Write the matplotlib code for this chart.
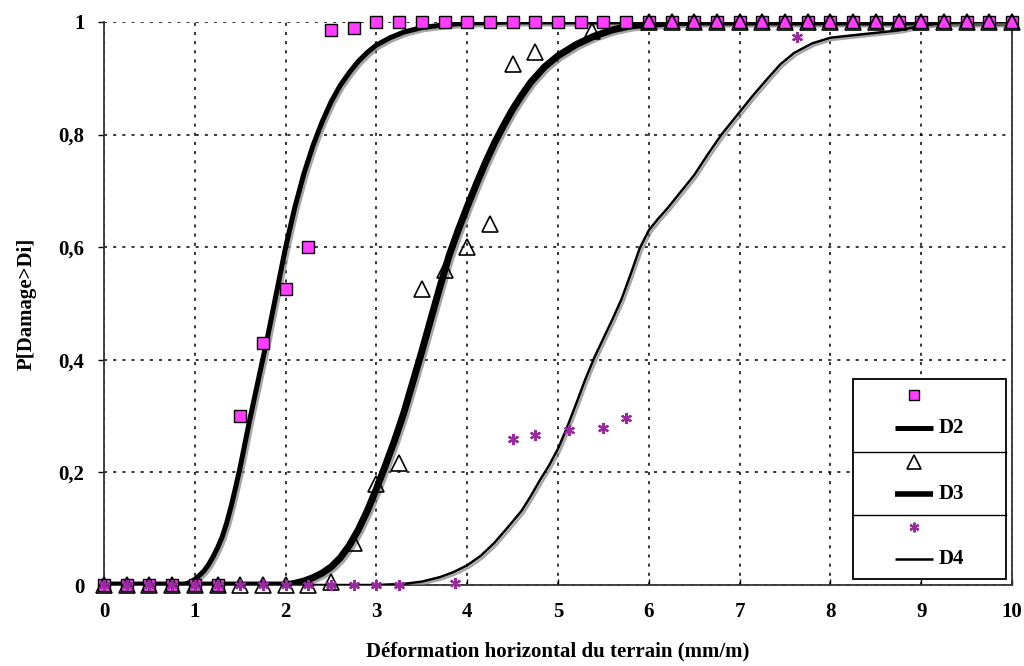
import matplotlib.pyplot as plt
import matplotlib.patheffects as pe
from matplotlib.lines import Line2D
import numpy as np

plt.rcParams['font.family'] = ['Liberation Serif', 'DejaVu Serif']
plt.rcParams['font.weight'] = 'bold'

# observed points
x_grid = np.arange(0, 10.01, 0.25)
d2_pts = [0, 0, 0, 0, 0, 0, 0.30, 0.43, 0.525, 0.60, 0.985, 0.99] + [1.0] * 29

d3_x = [0, 0.25, 0.5, 0.75, 1.0, 1.25, 1.5, 1.75, 2.0, 2.25, 2.5, 2.75, 3.0, 3.25,
        3.5, 3.75, 4.0, 4.25, 4.5, 4.75, 5.37, 6.0, 6.25, 6.5, 6.75, 7.0, 7.25,
        7.5, 7.75, 8.0, 8.25, 8.5, 8.75, 9.0, 9.25, 9.5, 9.75, 10.0]
d3_pts = [0, 0, 0, 0, 0, 0, 0, 0, 0, 0, 0.005, 0.074, 0.18, 0.217,
          0.526, 0.559, 0.60, 0.642, 0.926, 0.946, 0.984] + [1.0] * 17

d4_x = [0, 0.25, 0.5, 0.75, 1.0, 1.25, 1.5, 1.75, 2.0, 2.25, 2.5, 2.75, 3.0, 3.25,
        3.87, 4.5, 4.75, 5.12, 5.5, 5.75, 7.63]
d4_pts = [0] * 14 + [0.003, 0.259, 0.267, 0.275, 0.279, 0.297, 0.973]

# fitted curves
c2_x = [0, 0.85, 0.9, 0.95, 1.0, 1.05, 1.1, 1.15, 1.2, 1.25, 1.3, 1.35, 1.4, 1.45,
        1.5, 1.55, 1.6, 1.7, 1.8, 1.9, 2.0, 2.1, 2.2, 2.3, 2.4, 2.5, 2.6, 2.7,
        2.8, 2.9, 3.0, 3.15, 3.3, 3.5, 3.75, 4.0, 4.5, 10]
c2_y = [0, 0, 0.002, 0.005, 0.01, 0.017, 0.025, 0.036, 0.05, 0.066, 0.085, 0.11,
        0.14, 0.174, 0.21, 0.25, 0.29, 0.365, 0.44, 0.52, 0.60, 0.67, 0.73, 0.78,
        0.822, 0.858, 0.887, 0.91, 0.93, 0.946, 0.959, 0.972, 0.982, 0.99, 0.995,
        0.998, 1.0, 1.0]

c3_x = [0, 2.0, 2.1, 2.2, 2.3, 2.4, 2.5, 2.6, 2.7, 2.8, 2.9, 3.0, 3.1, 3.2, 3.3,
        3.4, 3.5, 3.6, 3.7, 3.8, 3.9, 4.0, 4.1, 4.2, 4.3, 4.4, 4.5, 4.6, 4.7,
        4.85, 5.0, 5.2, 5.4, 5.6, 5.8, 6.0, 6.5, 10]
c3_y = [0, 0, 0.003, 0.007, 0.013, 0.021, 0.032, 0.048, 0.07, 0.098, 0.132, 0.171,
        0.213, 0.257, 0.305, 0.36, 0.415, 0.473, 0.53, 0.585, 0.63, 0.672, 0.712,
        0.75, 0.785, 0.816, 0.845, 0.87, 0.893, 0.92, 0.94, 0.96, 0.975, 0.986,
        0.993, 0.996, 1.0, 1.0]

c4_x = [0, 3.0, 3.3, 3.5, 3.7, 3.85, 4.0, 4.15, 4.3, 4.45, 4.6, 4.7, 4.8, 4.9,
        5.0, 5.1, 5.2, 5.3, 5.4, 5.5, 5.6, 5.7, 5.8, 5.9, 6.0, 6.1, 6.2, 6.35,
        6.5, 6.65, 6.8, 7.0, 7.15, 7.3, 7.45, 7.6, 7.8, 8.0, 8.4, 8.75, 9.0,
        9.2, 9.5, 10]
c4_y = [0, 0, 0.002, 0.006, 0.014, 0.023, 0.035, 0.052, 0.075, 0.103, 0.132,
        0.158, 0.186, 0.212, 0.242, 0.28, 0.322, 0.365, 0.404, 0.438, 0.472,
        0.508, 0.552, 0.598, 0.63, 0.65, 0.668, 0.698, 0.728, 0.765, 0.8, 0.84,
        0.87, 0.898, 0.925, 0.945, 0.962, 0.972, 0.979, 0.985, 0.993, 0.998,
        1.0, 1.0]

x_ticks = list(range(0, 11))
y_ticks = [0, 0.2, 0.4, 0.6, 0.8, 1.0]
y_tick_labels = ['0', '0,2', '0,4', '0,6', '0,8', '1']

sq_color = '#ff3cff'
ast_color = '#9a2aa0'

fig = plt.figure(figsize=(10.24, 6.66), dpi=100)
ax = fig.add_axes([0.1016, 0.1216, 0.8867, 0.8454])

shadow = [pe.SimpleLineShadow(offset=(1.5, -1.5), shadow_color='gray', alpha=0.7), pe.Normal()]

ax.plot(c2_x, c2_y, color='black', lw=3.6, zorder=3, path_effects=shadow)
ax.plot(c3_x, c3_y, color='black', lw=5.0, zorder=3, path_effects=shadow)
ax.plot(c4_x, c4_y, color='black', lw=1.8, zorder=3, path_effects=shadow)

ax.plot(x_grid, d2_pts, ls='none', marker='s', ms=8, mfc=sq_color, mec='black', mew=1.0,
        zorder=4, clip_on=False)
ax.plot(d3_x, d3_pts, ls='none', marker='^', ms=11, mfc='none', mec='black', mew=1.2,
        zorder=5, clip_on=False)
ax.plot(d4_x, d4_pts, ls='none', marker=(6, 2, 0), ms=8, mec=ast_color, mew=1.6,
        zorder=6, clip_on=False)

ax.set_xlim(0, 10)
ax.set_ylim(0, 1)
ax.set_xticks(x_ticks)
ax.set_yticks(y_ticks)
ax.set_yticklabels(y_tick_labels)
ax.tick_params(axis='both', labelsize=15, length=4, width=1)
ax.tick_params(axis='x', direction='in', pad=12)
ax.tick_params(axis='y', direction='out', pad=10)
for lab in ax.get_xticklabels() + ax.get_yticklabels():
    lab.set_fontweight('bold')

ax.grid(True, color='black', lw=1.1, ls=(0, (2, 4)))
ax.spines['top'].set_visible(False)
for s in ['left', 'bottom', 'right']:
    ax.spines[s].set_linewidth(1.3)
    ax.spines[s].set_color('#333333')

ax.set_xlabel('Déformation horizontal du terrain (mm/m)', fontsize=15, fontweight='bold', labelpad=14)
ax.set_ylabel('P[Damage>Di]', fontsize=15, fontweight='bold', labelpad=16)

# legend box drawn by hand (three stacked groups)
tr = ax.transAxes
ax.add_patch(plt.Rectangle((0.825, 0.011), 0.168, 0.355, transform=tr, fill=True,
                           facecolor='white', edgecolor='black', lw=1.3, zorder=7))
for yy in [0.236, 0.124]:
    ax.add_line(Line2D([0.825, 0.993], [yy, yy], transform=tr, color='black', lw=1.0, zorder=8))
ax.add_line(Line2D([0.892], [0.3375], transform=tr, marker='s', ms=7, mfc=sq_color,
                   mec='black', mew=1.0, zorder=8))
ax.add_line(Line2D([0.892], [0.218], transform=tr, marker='^', ms=10, mfc='none',
                   mec='black', mew=1.2, zorder=8))
ax.add_line(Line2D([0.892], [0.103], transform=tr, marker=(6, 2, 0), ms=7,
                   mec=ast_color, mew=1.6, zorder=8))
for yy, lw, name in [(0.279, 3.6, 'D2'), (0.162, 4.0, 'D3'), (0.046, 1.8, 'D4')]:
    ax.add_line(Line2D([0.871, 0.913], [yy, yy], transform=tr, color='black', lw=lw,
                       zorder=8, solid_capstyle='butt'))
    ax.text(0.919, yy, name, transform=tr, fontsize=15, fontweight='bold',
            va='center', ha='left', zorder=8)

fig.savefig('out.png', dpi=100)
